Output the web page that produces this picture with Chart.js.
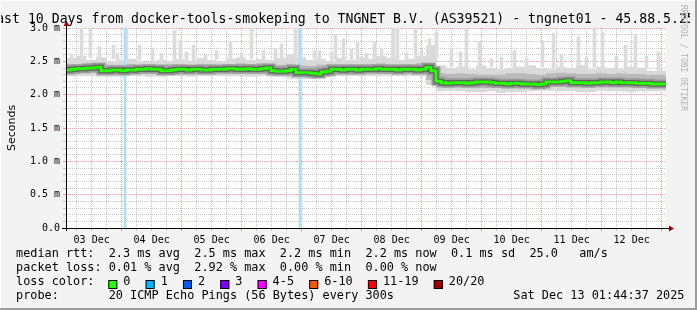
<!DOCTYPE html>
<html><head><meta charset="utf-8">
<script src="https://cdn.jsdelivr.net/npm/chart.js@4/dist/chart.umd.min.js"></script>
<style>html,body{margin:0;padding:0;background:#f3f3f3;overflow:hidden}</style>
</head><body><canvas id="c" width="697" height="310"></canvas>
<script>
// ---- data (x in hours since Dec 3 01:44:37, 240 h window) ----
const binHoursMedian = 2;   // median bins are 2 hours wide
const binHoursSmoke = 4;    // smoke bins are 4 hours wide
const medianRtt = [
 2.37,2.37,2.38,2.39,2.39,2.40,2.40,2.41,2.36,2.36,
 2.37,2.37,2.36,2.37,2.37,2.38,2.38,2.39,2.38,2.38,
 2.36,2.36,2.37,2.38,2.38,2.37,2.38,2.38,2.37,2.37,
 2.38,2.38,2.38,2.39,2.39,2.38,2.38,2.39,2.38,2.38,
 2.39,2.40,2.36,2.35,2.35,2.36,2.38,2.33,2.33,2.33,
 2.32,2.31,2.34,2.35,2.38,2.38,2.37,2.38,2.38,2.37,
 2.38,2.38,2.38,2.39,2.38,2.38,2.38,2.37,2.38,2.38,
 2.38,2.37,2.38,2.41,2.36,2.20,2.18,2.17,2.18,2.18,
 2.18,2.17,2.18,2.19,2.19,2.19,2.18,2.17,2.17,2.16,
 2.17,2.17,2.16,2.16,2.16,2.15,2.16,2.19,2.19,2.19,
 2.20,2.21,2.18,2.18,2.18,2.17,2.18,2.18,2.19,2.19,
 2.18,2.19,2.18,2.18,2.18,2.17,2.17,2.17,2.16,2.16
];
const smokeTop = [
 2.50,2.55,2.58,2.52,2.56,2.50,2.52,2.54,2.50,2.49,
 2.52,2.50,2.53,2.51,2.55,2.52,2.50,2.54,2.56,2.52,
 2.54,2.52,2.55,2.60,2.56,2.52,2.54,2.50,2.55,2.52,
 2.56,2.54,2.58,2.55,2.52,2.54,2.58,2.74,
 2.44,2.40,2.42,2.38,2.44,2.40,2.38,2.40,2.42,2.44,
 2.40,2.38,2.42,2.40,2.44,2.38,2.42,2.40,2.38,2.42,2.40,2.36
];
const smokeUp = [
 2.45,2.46,2.46,2.47,2.47,2.45,2.45,2.46,2.45,2.45,
 2.45,2.46,2.46,2.45,2.46,2.46,2.45,2.46,2.47,2.46,
 2.47,2.46,2.45,2.46,2.44,2.43,2.45,2.46,2.46,2.46,
 2.46,2.46,2.47,2.46,2.46,2.46,2.47,2.47,
 2.32,2.31,2.32,2.31,2.30,2.30,2.30,2.32,2.32,2.31,
 2.30,2.32,2.33,2.32,2.31,2.31,2.32,2.31,2.32,2.31,2.31,2.30
];
const smokeDown = [
 2.32,2.33,2.33,2.33,2.32,2.32,2.32,2.33,2.33,2.32,
 2.32,2.33,2.33,2.32,2.33,2.33,2.33,2.33,2.33,2.32,
 2.33,2.32,2.31,2.29,2.28,2.28,2.30,2.32,2.33,2.33,
 2.33,2.33,2.33,2.33,2.33,2.33,2.33,2.22,
 2.11,2.11,2.11,2.11,2.10,2.10,2.10,2.10,2.10,2.11,
 2.12,2.12,2.12,2.11,2.11,2.11,2.12,2.11,2.11,2.11,2.10,2.10
];
const smokeBottom = [
 2.27,2.28,2.28,2.28,2.27,2.27,2.27,2.28,2.28,2.27,
 2.27,2.28,2.28,2.27,2.28,2.28,2.28,2.28,2.28,2.27,
 2.28,2.27,2.26,2.24,2.23,2.23,2.25,2.27,2.28,2.28,
 2.28,2.28,2.28,2.28,2.28,2.28,2.28,2.14,
 2.05,2.06,2.05,2.04,2.04,2.05,2.03,2.04,2.04,2.05,
 2.06,2.06,2.05,2.05,2.04,2.04,2.06,2.05,2.05,2.04,2.05,2.05
];
const spikeHours = [1.6,5.6,9.2,12.8,18.4,20,23.6,28.8,34,37.6,42.8,45.2,47.6,50.4,55.2,59.6,65.2,69.6,73.6,78.4,
 83.2,85.6,91.2,92.8,98.8,100.8,105.6,107.2,110.4,113.6,116,119.6,122.8,125.6,130.4,132,135.6,139.2,141.6,144.8,147.6,
 153.6,157.2,159.6,164.8,169.6,173.6,178.8,183.6,190,194.4,197.6,204.4,207.6,210.8,214,219.6,223.2,227.2,231.6,236.4];
const spikeTops = [2.60,3.00,3.00,2.72,2.74,2.62,2.99,2.74,2.69,2.62,2.96,2.81,2.64,2.74,2.59,2.66,2.79,2.62,3.00,2.66,
 2.69,2.76,3.00,3.00,2.66,2.66,2.64,2.89,2.84,2.68,2.79,2.62,2.79,2.68,3.00,3.00,2.62,3.00,2.66,2.84,2.94,
 2.70,2.64,3.00,2.79,2.54,2.56,2.66,2.55,2.81,2.92,2.60,2.87,2.56,2.99,2.94,2.58,2.74,2.89,2.58,2.64];
const lossHours = [24, 94];
const lossTop = 3.0;
const dayLabels = ['03 Dec','04 Dec','05 Dec','06 Dec','07 Dec','08 Dec','09 Dec','10 Dec','11 Dec','12 Dec'];
const firstMidnight = 22.256;  // hours from start to Dec 4 00:00
const yMax = 3.0;

const titleText = 'Last 10 Days from docker-tools-smokeping to TNGNET B.V. (AS39521) - tngnet01 - 45.88.5.25';
const legendRows = [
 'median rtt:  2.3 ms avg  2.5 ms max  2.2 ms min  2.2 ms now  0.1 ms sd  25.0   am/s',
 'packet loss: 0.01 % avg  2.92 % max  0.00 % min  0.00 % now',
 'loss color:',
 'probe:       20 ICMP Echo Pings (56 Bytes) every 300s'
];
const lossColorLabels = ['0','1','2','3','4-5','6-10','11-19','20/20'];
const lossColors = ['#26ff00','#00b8ff','#0059ff','#7e00ff','#ff00ff','#ff5500','#ff0000','#a10000'];
const stampText = 'Sat Dec 13 01:44:37 2025';

// ---- build datasets from the arrays ----
function stepPts(arr, w){ const p = arr.map((v,i)=>({x:i*w, y:v})); p.push({x:arr.length*w, y:arr[arr.length-1]}); return p; }
function smokeTopAt(h){ return smokeTop[Math.min(smokeTop.length-1, Math.floor(h/binHoursSmoke))]; }

const tickHours = [];
for (let h = firstMidnight - 18; h <= 240; h += 6) tickHours.push(h);
function isMidnight(v){ const r = (((v - firstMidnight) % 24) + 24) % 24; return r < 0.01 || r > 23.99; }

const GRID_MINOR = 'rgba(150,150,150,0.5)';
const GRID_MAJOR = 'rgba(225,100,100,0.6)';

const framePlugin = {
 id: 'frame',
 beforeDraw(chart){
  const {ctx, chartArea:a} = chart;
  ctx.save();
  ctx.fillStyle = '#f3f3f3'; ctx.fillRect(0,0,chart.width,chart.height);
  ctx.fillStyle = '#ffffff'; ctx.fillRect(a.left,a.top,a.right-a.left,a.bottom-a.top);
  ctx.restore();
 },
 afterDraw(chart){
  const {ctx, chartArea:a} = chart;
  ctx.save();
  // axes
  ctx.strokeStyle = '#000'; ctx.lineWidth = 1;
  ctx.beginPath(); ctx.moveTo(62, a.bottom+0.5); ctx.lineTo(a.right+4, a.bottom+0.5); ctx.stroke();
  ctx.beginPath(); ctx.moveTo(a.left+0.5, a.bottom+3); ctx.lineTo(a.left+0.5, a.top-3); ctx.stroke();
  ctx.fillStyle = '#a00000';
  ctx.beginPath(); ctx.moveTo(a.right+3, a.bottom-2.5); ctx.lineTo(a.right+3, a.bottom+3.5); ctx.lineTo(a.right+8, a.bottom+0.5); ctx.closePath(); ctx.fill();
  ctx.beginPath(); ctx.moveTo(a.left-2.5, a.top-2); ctx.lineTo(a.left+3.5, a.top-2); ctx.lineTo(a.left+0.5, a.top-7); ctx.closePath(); ctx.fill();
  // title
  ctx.save();
  ctx.beginPath(); ctx.rect(0,0,690,27); ctx.clip();
  ctx.fillStyle = '#000'; ctx.font = '13.2px "DejaVu Sans Mono"'; ctx.textAlign = 'center'; ctx.textBaseline = 'alphabetic';
  ctx.fillText(titleText, 341.5, 22.5);
  ctx.restore();
  // y axis title
  ctx.save(); ctx.translate(12, (a.top+a.bottom)/2); ctx.rotate(-Math.PI/2);
  ctx.font = '11px "DejaVu Sans"'; ctx.fillStyle = '#000'; ctx.textAlign = 'center'; ctx.textBaseline = 'middle';
  ctx.fillText('Seconds', 0, 0); ctx.restore();
  // legend
  ctx.font = '11.85px "DejaVu Sans Mono"'; ctx.fillStyle = '#000'; ctx.textAlign = 'left'; ctx.textBaseline = 'middle';
  const rowY = [254, 268, 282, 296];
  legendRows.forEach((t,i)=> ctx.fillText(t, 16, rowY[i]));
  const cw = ctx.measureText('0').width;
  let bx = 108.3;
  lossColorLabels.forEach((lab,i)=>{
   ctx.fillStyle = lossColors[i]; ctx.fillRect(bx, 280, 9, 9);
   ctx.strokeStyle = '#000'; ctx.lineWidth = 1; ctx.strokeRect(bx+0.5, 280.5, 8, 8);
   ctx.fillStyle = '#000'; ctx.fillText(lab, bx+15, rowY[2]);
   bx += 15 + lab.length*cw + 15.2;
  });
  ctx.fillText(stampText, 513.3, rowY[3]);
  // watermark
  ctx.save(); ctx.translate(683, 5); ctx.rotate(Math.PI/2);
  ctx.font = '8px "DejaVu Sans Mono"'; ctx.fillStyle = '#b0b0b0'; ctx.textBaseline = 'middle';
  ctx.fillText('RRDTOOL / TOBI OETIKER', 0, 0); ctx.restore();
  // frame
  ctx.fillStyle = '#9c9c9c';
  ctx.fillRect(chart.width-2, 0, 2, chart.height);
  ctx.fillRect(0, chart.height-2, chart.width, 2);
  ctx.fillStyle = '#ffffff';
  ctx.fillRect(0,0,chart.width-2,1); ctx.fillRect(0,0,1,chart.height-2);
  ctx.restore();
 }
};

const stepOpts = {stepped:'after', pointRadius:0, borderWidth:0, tension:0};
const chart = new Chart(document.getElementById('c'), {
 type: 'line',
 data: { datasets: [
  {label:'smokeTop', data: stepPts(smokeTop, binHoursSmoke), ...stepOpts, fill: 1, backgroundColor:'#d9d9d9', order: 10},
  {label:'smokeBottom', data: stepPts(smokeBottom, binHoursSmoke), ...stepOpts, fill: false, order: 10},
  {type:'bar', label:'spikes', data: spikeHours.map((h,i)=>({x:h, y:[smokeTopAt(h)-0.02, spikeTops[i]]})), backgroundColor:'#dcdcdc', barThickness:3, order: 9},
  {label:'smokeUp', data: stepPts(smokeUp, binHoursSmoke), ...stepOpts, fill: 4, backgroundColor:'#bababa', order: 8},
  {label:'smokeDown', data: stepPts(smokeDown, binHoursSmoke), ...stepOpts, fill: false, order: 8},
  {type:'bar', label:'loss', data: lossHours.map(h=>({x:h, y:lossTop})), backgroundColor:'#a6e2ff', barThickness:2, order: 5},
  {label:'medianHalo', data: stepPts(medianRtt, binHoursMedian), stepped:'after', pointRadius:0, borderWidth:9, borderColor:'#999999', fill:false, order: 4},
  {label:'medianShade', data: stepPts(medianRtt, binHoursMedian), stepped:'after', pointRadius:0, borderWidth:5, borderColor:'#555555', fill:false, order: 3},
  {label:'median', data: stepPts(medianRtt, binHoursMedian), stepped:'after', pointRadius:0, borderWidth:3, borderColor:'#26ff00', fill:false, order: 1}
 ]},
 options: {
  responsive: false, animation: false, devicePixelRatio: 1,
  layout: {padding: {left:0, top:28, right:31, bottom:0}},
  plugins: {legend:{display:false}, tooltip:{enabled:false}},
  scales: {
   x: {
    type:'linear', min:0, max:240, offset:false,
    afterFit(s){ s.height = 82; },
    afterBuildTicks(s){ s.ticks = tickHours.map(v=>({value:v})); },
    grid: {offset:false, color: c => isMidnight(c.tick.value) ? GRID_MAJOR : GRID_MINOR, tickLength:3, lineWidth:1},
    border: {display:false, dash:[1,1]},
    ticks: {autoSkip:false, maxRotation:0, padding:3, color:'#000', font:{family:'DejaVu Sans Mono', size:10},
     callback(v){ const r = (((v - firstMidnight) % 24) + 24) % 24; if (Math.abs(r-12) > 0.01) return ''; const d = Math.round((v - firstMidnight + 12)/24); return dayLabels[d] || ''; }}
   },
   y: {
    min:0, max:yMax,
    afterFit(s){ s.width = 66; },
    grid: {color: c => (Math.round(c.tick.value*10) % 5 === 0) ? GRID_MAJOR : GRID_MINOR, tickLength:3, lineWidth:1},
    border: {display:false, dash:[1,1]},
    ticks: {stepSize:0.1, autoSkip:false, padding:3, color:'#000', font:{family:'DejaVu Sans Mono', size:10},
     callback(v){ const r = Math.round(v*10); if (r % 5 !== 0) return ''; return r === 0 ? '0.0' : (r/10).toFixed(1)+' m'; }}
   }
  }
 },
 plugins: [framePlugin]
});
</script></body></html>
